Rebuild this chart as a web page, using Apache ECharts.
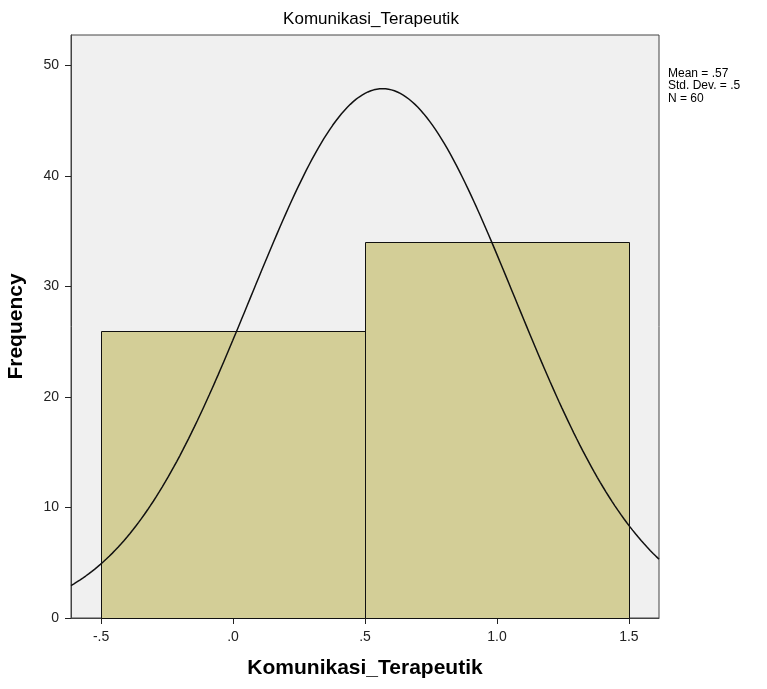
<!DOCTYPE html>
<html><head><meta charset="utf-8">
<script src="https://cdn.jsdelivr.net/npm/echarts@6/dist/echarts.min.js"></script>
<style>html,body{margin:0;padding:0;background:#fff}#c{width:767px;height:689px}</style>
</head><body><div id="c"></div>
<script>
// Data
var binStart = [-0.5, 0.5];
var binEnd = [0.5, 1.5];
var freq = [26, 34];
var xTicks = [-0.5, 0, 0.5, 1.0, 1.5];
var xTickLabels = ['-.5', '.0', '.5', '1.0', '1.5'];
var yTicks = [0, 10, 20, 30, 40, 50];
var statMean = 0.5667, statSd = 0.4997, statN = 60, binWidth = 1;
var statsText = ['Mean = .57', 'Std. Dev. = .5', 'N = 60'];

var xMin = -0.614, xMax = 1.614, yMax = 52.76;

// fitted normal curve (from mean, sd, N)
var curve = [];
for (var i = 0; i <= 200; i++) {
  var x = xMin + (xMax - xMin) * i / 200;
  var z = (x - statMean) / statSd;
  curve.push([x, statN * binWidth * Math.exp(-0.5 * z * z) / (statSd * Math.sqrt(2 * Math.PI))]);
}
var bars = binStart.map(function (s, i) { return [s, binEnd[i], freq[i]]; });

var chart = echarts.init(document.getElementById('c'));
var font = 'Liberation Sans, Arial, sans-serif';
chart.setOption({
  animation: false,
  backgroundColor: '#fff',
  title: {
    text: 'Komunikasi_Terapeutik', left: 366, top: 6, textAlign: 'center',
    textStyle: { fontFamily: font, fontSize: 17, fontWeight: 'normal', color: '#000' }
  },
  grid: { left: 71, right: 108, top: 35, bottom: 71, containLabel: false, outerBoundsMode: 'none', show: true, backgroundColor: '#F0F0F0', borderColor: '#444', borderWidth: 1 },
  graphic: [{
    type: 'text', left: 668, top: 67,
    style: { text: statsText.join('\n'), fontFamily: font, fontSize: 12, lineHeight: 12.5, fill: '#000' }
  }],
  xAxis: {
    type: 'value', min: xMin, max: xMax,
    name: 'Komunikasi_Terapeutik', nameLocation: 'middle', nameGap: 40,
    nameTextStyle: { fontFamily: font, fontSize: 21, fontWeight: 'bold', color: '#000' },
    axisLine: { show: true, onZero: false, lineStyle: { color: '#444' } },
    axisTick: { show: true, length: 6, customValues: xTicks, lineStyle: { color: '#222' } },
    axisLabel: {
      customValues: xTicks, fontFamily: font, fontSize: 14, color: '#222', margin: 12,
      formatter: function (v) { var k = xTicks.findIndex(function (t) { return Math.abs(t - v) < 1e-6; }); return k >= 0 ? xTickLabels[k] : ''; }
    },
    splitLine: { show: false }
  },
  yAxis: {
    type: 'value', min: 0, max: yMax,
    name: 'Frequency', nameLocation: 'middle', nameGap: 44, nameRotate: 90,
    nameTextStyle: { fontFamily: font, fontSize: 21, fontWeight: 'bold', color: '#000' },
    axisLine: { show: true, onZero: false, lineStyle: { color: '#444' } },
    axisTick: { show: true, length: 6, customValues: yTicks, lineStyle: { color: '#222' } },
    axisLabel: { customValues: yTicks, fontFamily: font, fontSize: 14, color: '#222', margin: 12 },
    splitLine: { show: false }
  },
  series: [{
    type: 'custom',
    data: bars,
    renderItem: function (params, api) {
      var p0 = api.coord([api.value(0), api.value(2)]);
      var p1 = api.coord([api.value(1), 0]);
      return {
        type: 'rect',
        shape: { x: Math.round(p0[0]) + 0.5, y: Math.round(p0[1]) + 0.5, width: Math.round(p1[0] - p0[0]), height: Math.round(p1[1] - p0[1]) },
        style: { fill: '#D3CE97', stroke: '#111', lineWidth: 1 }
      };
    },
    z: 2
  }, {
    type: 'line', data: curve, showSymbol: false, smooth: false, clip: true,
    lineStyle: { color: '#111', width: 1.5 }, z: 3
  }]
});
</script></body></html>
